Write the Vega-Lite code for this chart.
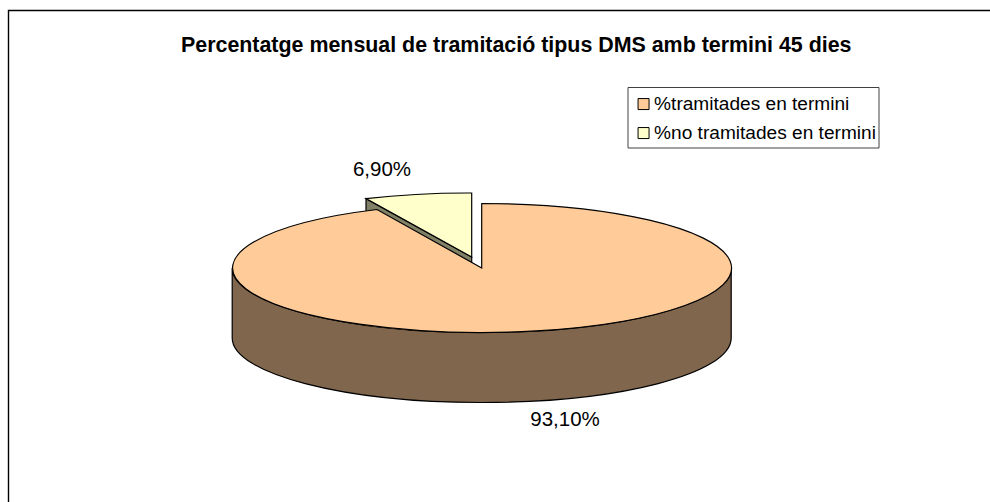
{
  "$schema": "https://vega.github.io/schema/vega-lite/v6.json",
  "width": 990,
  "height": 502,
  "padding": 0,
  "autosize": {"type": "none"},
  "background": "white",
  "config": {"view": {"stroke": null}},
  "title": {
    "text": "Percentatge mensual de tramitació tipus DMS amb termini 45 dies",
    "anchor": "start",
    "frame": "group",
    "dx": 181,
    "offset": -67,
    "baseline": "middle",
    "font": "Liberation Sans",
    "fontSize": 21.4,
    "fontWeight": "bold",
    "color": "#000000"
  },
  "data": {
    "values": [
      {"categoria": "%tramitades en termini", "valor": 93.1, "etiqueta": "93,10%"},
      {"categoria": "%no tramitades en termini", "valor": 6.9, "etiqueta": "6,90%"}
    ]
  },
  "layer": [
    {
      "transform": [{"filter": "datum.valor > 50"}],
      "mark": {"type": "point", "filled": false, "opacity": 1, "size": 4, "stroke": "#000000", "strokeWidth": 1.4,
        "shape": "M-486.5 251 L-486.5 -240.5 L495 -240.5"}
    },
    {
      "transform": [{"filter": "datum.valor > 50"}],
      "mark": {"type": "point", "filled": false, "opacity": 1, "size": 4, "stroke": "#404040", "strokeWidth": 1,
        "shape": "M133 -163.5 L384 -163.5 L384 -103 L133 -103 Z"}
    },
    {
      "transform": [{"filter": "datum.valor > 50"}],
      "mark": {"type": "point", "filled": true, "opacity": 1, "size": 4, "fill": "#80664D", "stroke": "#000000", "strokeWidth": 1.2,
        "shape": "M-262.8 17 L-262.8 87 A249.5 64.5 0 0 0 236.2 87 L236.2 17 A249.5 64.5 0 0 1 -262.8 17 Z"}
    },
    {
      "transform": [{"filter": "datum.valor < 50"}],
      "mark": {"type": "point", "filled": true, "opacity": 1, "size": 4, "fill": "#808066", "stroke": "#000000", "strokeWidth": 1.2,
        "shape": "M-129 -52.4 L-129 -38.5 L-23.3 14 L-23.3 6 Z"}
    },
    {
      "transform": [{"filter": "datum.valor < 50"}],
      "mark": {"type": "point", "filled": true, "opacity": 1, "size": 4, "stroke": "#000000", "strokeWidth": 1.2,
        "shape": "M-23.3 6 L-23.3 -58 A249.5 64 0 0 0 -129 -52.4 Z"},
      "encoding": {
        "color": {
          "field": "categoria", "type": "nominal",
          "scale": {"domain": ["%tramitades en termini", "%no tramitades en termini"], "range": ["#FFCC99", "#FFFFCC"]},
          "legend": {
            "title": null, "orient": "none", "legendX": 628, "legendY": 94.5, "padding": 0,
            "symbolType": "square", "symbolSize": 121, "symbolOffset": 6, "symbolStrokeColor": "#000000", "symbolStrokeWidth": 1,
            "labelFont": "Liberation Sans", "labelFontSize": 19.1, "labelColor": "#000000", "labelOffset": 1, "labelLimit": 300, "rowPadding": 9
          }
        }
      }
    },
    {
      "transform": [{"filter": "datum.valor > 50"}],
      "mark": {"type": "point", "filled": true, "opacity": 1, "size": 4, "stroke": "#000000", "strokeWidth": 1.2,
        "shape": "M-13.3 -47.5 A249.5 64.5 0 1 1 -118 -41.5 L-13.3 17 Z"},
      "encoding": {"color": {"field": "categoria", "type": "nominal"}}
    },
    {
      "transform": [{"filter": "datum.valor > 50"}],
      "mark": {"type": "text", "dx": 70, "dy": 168.5, "baseline": "middle", "font": "Liberation Sans", "fontSize": 20.5, "fill": "#000000"},
      "encoding": {"text": {"field": "etiqueta"}}
    },
    {
      "transform": [{"filter": "datum.valor < 50"}],
      "mark": {"type": "text", "dx": -113, "dy": -81, "baseline": "middle", "font": "Liberation Sans", "fontSize": 20.5, "fill": "#000000"},
      "encoding": {"text": {"field": "etiqueta"}}
    }
  ]
}
